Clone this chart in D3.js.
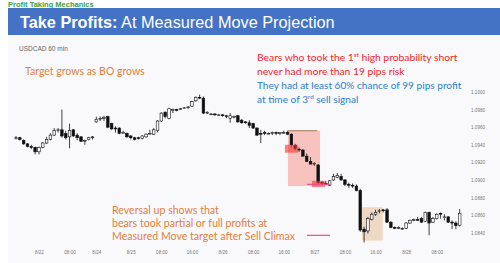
<!DOCTYPE html>
<html>
<head>
<meta charset="utf-8">
<script src="https://cdn.jsdelivr.net/npm/d3@7"></script>
<style>
body { margin: 0; background: #fff; }
svg { display: block; }
</style>
</head>
<body>
<div id="chart"></div>
<script>
// USDCAD 60 min bars: [open, high, low, close]
const ohlc = [
  [1.0948, 1.0950, 1.0946, 1.0948], [1.0948, 1.0949, 1.0945, 1.0946], [1.0945, 1.0946, 1.0940, 1.0941],
  [1.0941, 1.0942, 1.0937, 1.0938], [1.0938, 1.0940, 1.0935, 1.0937], [1.0937, 1.0938, 1.0929, 1.0932],
  [1.0932, 1.0938, 1.0929, 1.0937], [1.0937, 1.0943, 1.0936, 1.0942], [1.0942, 1.0949, 1.0941, 1.0946],
  [1.0946, 1.0953, 1.0945, 1.0951], [1.0951, 1.0959, 1.0950, 1.0956], [1.0956, 1.0959, 1.0954, 1.0957],
  [1.0957, 1.0980, 1.0948, 1.0950], [1.0953, 1.0956, 1.0946, 1.0948], [1.0949, 1.0964, 1.0936, 1.0956],
  [1.0957, 1.0958, 1.0949, 1.0950], [1.0951, 1.0953, 1.0945, 1.0948], [1.0949, 1.0950, 1.0943, 1.0944],
  [1.0945, 1.0946, 1.0940, 1.0945], [1.0946, 1.0949, 1.0945, 1.0948], [1.0948, 1.0950, 1.0946, 1.0949],
  // weekend gap
  [1.0966, 1.0972, 1.0965, 1.0969], [1.0970, 1.0972, 1.0967, 1.0970], [1.0970, 1.0973, 1.0967, 1.0971],
  [1.0972, 1.0973, 1.0959, 1.0960], [1.0964, 1.0965, 1.0957, 1.0958], [1.0959, 1.0961, 1.0954, 1.0958],
  [1.0959, 1.0960, 1.0952, 1.0953], [1.0954, 1.0956, 1.0953, 1.0954], [1.0953, 1.0954, 1.0948, 1.0949],
  [1.0950, 1.0951, 1.0946, 1.0948], [1.0948, 1.0949, 1.0945, 1.0946], [1.0948, 1.0949, 1.0946, 1.0947],
  [1.0947, 1.0951, 1.0946, 1.0950], [1.0949, 1.0953, 1.0948, 1.0952], [1.0953, 1.0957, 1.0952, 1.0953],
  [1.0952, 1.0959, 1.0951, 1.0957], [1.0956, 1.0968, 1.0954, 1.0967], [1.0967, 1.0977, 1.0966, 1.0976],
  [1.0977, 1.0978, 1.0970, 1.0972], [1.0970, 1.0982, 1.0969, 1.0981], [1.0980, 1.0981, 1.0976, 1.0980],
  [1.0980, 1.0981, 1.0978, 1.0979], [1.0981, 1.0982, 1.0980, 1.0981], [1.0982, 1.0983, 1.0981, 1.0982],
  [1.0982, 1.0984, 1.0981, 1.0983], [1.0984, 1.0990, 1.0983, 1.0989], [1.0990, 1.0995, 1.0989, 1.0994],
  [1.0994, 1.0997, 1.0992, 1.0993], [1.0993, 1.0995, 1.0975, 1.0976], [1.0976, 1.0978, 1.0975, 1.0977],
  [1.0975, 1.0976, 1.0974, 1.0975], [1.0975, 1.0976, 1.0973, 1.0974], [1.0974, 1.0975, 1.0973, 1.0974],
  [1.0974, 1.0975, 1.0972, 1.0973], [1.0973, 1.0974, 1.0970, 1.0972], [1.0970, 1.0976, 1.0965, 1.0973],
  [1.0972, 1.0973, 1.0970, 1.0972], [1.0973, 1.0974, 1.0965, 1.0966], [1.0968, 1.0969, 1.0964, 1.0965],
  [1.0966, 1.0967, 1.0964, 1.0965], [1.0965, 1.0968, 1.0959, 1.0962], [1.0964, 1.0965, 1.0958, 1.0959],
  [1.0959, 1.0960, 1.0950, 1.0951], [1.0953, 1.0957, 1.0942, 1.0952], [1.0954, 1.0956, 1.0951, 1.0953],
  [1.0953, 1.0954, 1.0952, 1.0953], [1.0953, 1.0955, 1.0951, 1.0954], [1.0954, 1.0955, 1.0951, 1.0953],
  [1.0953, 1.0954, 1.0951, 1.0954], [1.0954, 1.0956, 1.0953, 1.0954], [1.0954, 1.0956, 1.0951, 1.0952],
  [1.0952, 1.0953, 1.0938, 1.0940], [1.0939, 1.0941, 1.0934, 1.0936], [1.0935, 1.0937, 1.0932, 1.0934],
  [1.0934, 1.0935, 1.0927, 1.0927], [1.0927, 1.0930, 1.0921, 1.0921], [1.0921, 1.0926, 1.0918, 1.0918],
  [1.0918, 1.0920, 1.0916, 1.0919], [1.0917, 1.0918, 1.0895, 1.0897], [1.0897, 1.0899, 1.0894, 1.0896],
  [1.0896, 1.0899, 1.0894, 1.0895], [1.0894, 1.0900, 1.0893, 1.0899], [1.0900, 1.0907, 1.0899, 1.0904],
  [1.0903, 1.0908, 1.0902, 1.0905], [1.0904, 1.0907, 1.0899, 1.0900], [1.0900, 1.0901, 1.0893, 1.0895],
  [1.0895, 1.0897, 1.0891, 1.0894], [1.0894, 1.0896, 1.0891, 1.0893], [1.0893, 1.0895, 1.0887, 1.0888],
  [1.0888, 1.0890, 1.0841, 1.0843], [1.0844, 1.0847, 1.0829, 1.0841], [1.0842, 1.0858, 1.0839, 1.0856],
  [1.0855, 1.0863, 1.0854, 1.0861], [1.0861, 1.0866, 1.0859, 1.0863], [1.0864, 1.0867, 1.0862, 1.0865],
  [1.0866, 1.0867, 1.0863, 1.0865], [1.0866, 1.0868, 1.0851, 1.0852], [1.0852, 1.0853, 1.0845, 1.0846],
  [1.0846, 1.0847, 1.0844, 1.0845], [1.0845, 1.0847, 1.0844, 1.0846], [1.0845, 1.0846, 1.0843, 1.0845],
  [1.0845, 1.0852, 1.0844, 1.0851], [1.0851, 1.0855, 1.0850, 1.0854], [1.0854, 1.0856, 1.0853, 1.0855],
  [1.0855, 1.0858, 1.0854, 1.0854], [1.0856, 1.0858, 1.0851, 1.0852], [1.0853, 1.0864, 1.0852, 1.0863],
  [1.0863, 1.0864, 1.0837, 1.0851], [1.0852, 1.0858, 1.0851, 1.0856], [1.0856, 1.0862, 1.0855, 1.0861],
  [1.0862, 1.0863, 1.0856, 1.0861], [1.0858, 1.0861, 1.0854, 1.0858], [1.0858, 1.0859, 1.0851, 1.0852],
  [1.0852, 1.0854, 1.0844, 1.0851], [1.0851, 1.0853, 1.0844, 1.0848], [1.0848, 1.0867, 1.0847, 1.0862]
];

const yTicks = [1.1000, 1.0980, 1.0960, 1.0940, 1.0920, 1.0900, 1.0880, 1.0860, 1.0840];
const xTickIndex = [6, 14, 21, 30, 38, 46, 54, 62, 70, 78, 86, 94, 102, 110];
const xTickLabels = ['8/22', '08:00', '8/24', '8/25', '08:00', '16:00', '8/26', '08:00', '16:00', '8/27', '08:00', '16:00', '8/28', '08:00'];

// highlighted zones, in bar index / price terms
const zones = [
  { i0: 71.1, i1: 79.5, p0: 1.0956, p1: 1.0893, fill: 'rgba(248,150,140,0.55)' },
  { i0: 90.5, i1: 95.9, p0: 1.0869, p1: 1.0831, fill: 'rgba(232,190,150,0.55)' }
];
const markers = [
  { i0: 70.3, i1: 73.7, p0: 1.0940, p1: 1.0931 },
  { i0: 77.4, i1: 80.8, p0: 1.0899, p1: 1.0892 }
];
const signalHigh = { i0: 71.1, i1: 78.8, p: 1.0956 };
const mmLines = [{ i0: 76.1, i1: 82.1, p: 1.0895 }, { i0: 76.1, i1: 82.1, p: 1.0837 }];

const W = 500, H = 263;
const svg = d3.select('#chart').append('svg')
    .attr('width', W)
    .attr('height', H);

// top strip + title bar
svg.append('text')
    .attr('x', 8).attr('y', 6.5)
    .attr('font-family', 'Liberation Sans, Arial, sans-serif')
    .attr('font-weight', 'bold')
    .attr('font-size', 7.5)
    .attr('fill', '#3aa040')
    .text('Profit Taking Mechanics');

svg.append('rect')
    .attr('x', 8).attr('y', 35).attr('width', W - 8).attr('height', H - 35)
    .attr('fill', '#f9f9fc');

svg.append('rect')
    .attr('x', 8).attr('y', 8).attr('width', W - 8).attr('height', 27)
    .attr('fill', '#4472c4');

const title = svg.append('text')
    .attr('x', 20).attr('y', 28)
    .attr('font-family', 'Liberation Sans, Arial, sans-serif')
    .attr('font-size', 16.3)
    .attr('fill', '#fff');
title.append('tspan').attr('font-weight', 'bold').text('Take Profits:');
title.append('tspan').text(' At Measured Move Projection');

svg.append('text')
    .attr('x', 19).attr('y', 51)
    .attr('font-family', 'Liberation Sans, Arial, sans-serif')
    .attr('font-size', 6.5)
    .attr('fill', '#666')
    .text('USDCAD 60 min');

const x = d3.scaleLinear().domain([0, ohlc.length - 1]).range([16, 459.7]);
const y = d3.scaleLinear().domain([1.0840, 1.1000]).range([232.7, 92]);

// zones under the bars
svg.selectAll('.zone')
    .data(zones)
    .enter().append('rect')
    .attr('x', d => x(d.i0))
    .attr('y', d => y(d.p0))
    .attr('width', d => x(d.i1) - x(d.i0))
    .attr('height', d => y(d.p1) - y(d.p0))
    .attr('fill', d => d.fill);

svg.append('line')
    .attr('x1', x(signalHigh.i0)).attr('x2', x(signalHigh.i1))
    .attr('y1', y(signalHigh.p)).attr('y2', y(signalHigh.p))
    .attr('stroke', '#b08a70').attr('stroke-width', 1.2);

// axes
const yAxis = d3.axisRight(y)
    .tickValues(yTicks)
    .tickFormat(d3.format('.4f'))
    .tickSize(0);
svg.append('g')
    .attr('transform', 'translate(471,0)')
    .call(yAxis)
    .call(g => g.select('.domain').remove())
    .call(g => g.selectAll('text')
        .attr('x', 0)
        .attr('font-family', 'Liberation Sans, Arial, sans-serif')
        .attr('font-size', 4.6)
        .attr('fill', '#777'));

const xAxis = d3.axisBottom(x)
    .tickValues(xTickIndex)
    .tickFormat((d, i) => xTickLabels[i])
    .tickSize(0);
svg.append('g')
    .attr('transform', 'translate(0,251)')
    .call(xAxis)
    .call(g => g.select('.domain').remove())
    .call(g => g.selectAll('text')
        .attr('y', 0)
        .attr('dy', '0.71em')
        .attr('font-family', 'Liberation Sans, Arial, sans-serif')
        .attr('font-size', 4.6)
        .attr('fill', '#777'));

// candles
const bw = 2.6;
const candle = svg.selectAll('.candle')
    .data(ohlc)
    .enter().append('g')
    .attr('class', 'candle');

candle.append('line')
    .attr('x1', (d, i) => x(i)).attr('x2', (d, i) => x(i))
    .attr('y1', d => y(d[1])).attr('y2', d => y(d[2]))
    .attr('stroke', '#111').attr('stroke-width', 0.8);

candle.append('rect')
    .attr('x', (d, i) => x(i) - bw / 2)
    .attr('y', d => y(Math.max(d[0], d[3])))
    .attr('width', bw)
    .attr('height', d => Math.max(0.8, Math.abs(y(d[0]) - y(d[3]))))
    .attr('fill', d => d[3] < d[0] ? '#111' : '#fff')
    .attr('stroke', '#111')
    .attr('stroke-width', 0.6);

// red signal markers and measured move lines on top
svg.selectAll('.marker')
    .data(markers)
    .enter().append('rect')
    .attr('x', d => x(d.i0))
    .attr('y', d => y(d.p0))
    .attr('width', d => x(d.i1) - x(d.i0))
    .attr('height', d => y(d.p1) - y(d.p0))
    .attr('fill', 'rgba(240,50,50,0.6)');

svg.selectAll('.mm')
    .data(mmLines)
    .enter().append('line')
    .attr('x1', d => x(d.i0)).attr('x2', d => x(d.i1))
    .attr('y1', d => y(d.p)).attr('y2', d => y(d.p))
    .attr('stroke', '#ee4a90').attr('stroke-width', 1.2);

// annotations
function note(lines, x0, y0, lh, color, size) {
    const t = svg.append('text')
        .attr('font-family', 'Lato, Carlito, sans-serif')
        .attr('font-size', size)
        .attr('fill', color);
    lines.forEach((parts, k) => {
        parts.forEach((p, j) => {
            const ts = t.append('tspan').text(p.t);
            if (j === 0) ts.attr('x', x0).attr('y', y0 + k * lh);
            if (p.sup) ts.attr('font-size', size * 0.62).attr('dy', -4);
            else if (j > 0 && parts[j - 1].sup) ts.attr('dy', 4);
        });
    });
}

note([[{ t: 'Target grows as BO grows' }]], 25, 75, 14, '#e0803c', 10.5);

note([
    [{ t: 'Bears who took the 1' }, { t: 'st', sup: true }, { t: ' high probability short' }],
    [{ t: 'never had more than 19 pips risk' }]
], 257, 61, 14, '#f0262a', 10.3);

note([
    [{ t: 'They had at least 60% chance of 99 pips profit' }],
    [{ t: 'at time of 3' }, { t: 'rd', sup: true }, { t: ' sell signal' }]
], 257, 89, 14, '#2e7dc6', 10.1);

note([
    [{ t: 'Reversal up shows that' }],
    [{ t: 'bears took partial or full profits at' }],
    [{ t: 'Measured Move target after Sell Climax' }]
], 112, 214, 13, '#e0803c', 10.6);
</script>
</body>
</html>
